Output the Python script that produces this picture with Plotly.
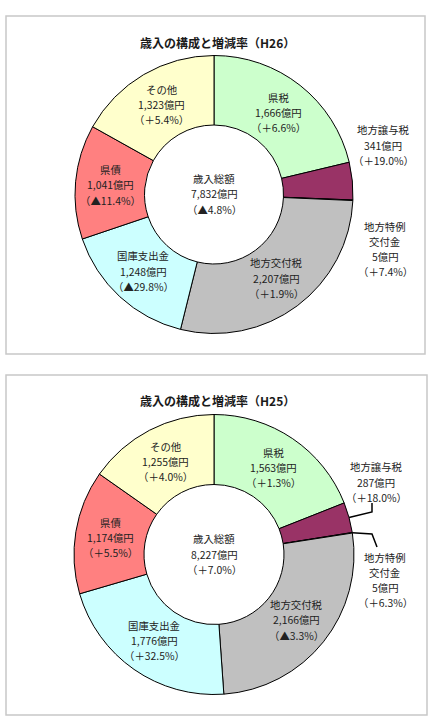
import math
import plotly.graph_objects as go

# ---------------- data ----------------
categories = ['県税', '地方譲与税', '地方特例交付金', '地方交付税', '国庫支出金', '県債', 'その他']
display_names = [['県税'], ['地方譲与税'], ['地方特例', '交付金'], ['地方交付税'],
                 ['国庫支出金'], ['県債'], ['その他']]
h26_values = [1666, 341, 5, 2207, 1248, 1041, 1323]
h26_rates = ['＋6.6%', '＋19.0%', '＋7.4%', '＋1.9%', '▲29.8%', '▲11.4%', '＋5.4%']
h26_total = 7832
h26_total_rate = '▲4.8%'
h25_values = [1563, 287, 5, 2166, 1776, 1174, 1255]
h25_rates = ['＋1.3%', '＋18.0%', '＋6.3%', '▲3.3%', '＋32.5%', '＋5.5%', '＋4.0%']
h25_total = 8227
h25_total_rate = '＋7.0%'
titles = ['歳入の構成と増減率（H26）', '歳入の構成と増減率（H25）']

colors = ['#CCFFCC', '#993366', '#993366', '#C0C0C0', '#CCFFFF', '#FF8080', '#FFFFCC']

W, H = 431, 717
FONT = 'Noto Sans CJK JP'
TXT = '#222222'
LINE_H = 15.2
FS = 10.4


def px(x):
    return x / W


def py(y):
    return 1 - y / H


fig = go.Figure()
annotations = []
shapes = []


def add_lines(lines, x, y, size=FS, color=TXT):
    n = len(lines)
    for k, t in enumerate(lines):
        yy = y + (k - (n - 1) / 2) * LINE_H
        annotations.append(dict(text=t, x=px(x), y=py(yy), xref='paper', yref='paper',
                                showarrow=False, font=dict(family=FONT, size=size, color=color),
                                xanchor='center', yanchor='middle'))


panels = [
    dict(values=h26_values, rates=h26_rates, total=h26_total, trate=h26_total_rate,
         title=titles[0], cx=214, cy=194.5, R=139, box=(6, 16, 425, 354), title_y=43,
         outside={1: (383, 145), 2: (385, 249)}, leaders=False),
    dict(values=h25_values, rates=h25_rates, total=h25_total, trate=h25_total_rate,
         title=titles[1], cx=214, cy=554.5, R=140, box=(6, 375, 427, 715), title_y=400,
         outside={1: (376, 482), 2: (385, 580)}, leaders=True,
         leader_pts={1: [(372, 512), (372, 503)], 2: [(372, 534), (377, 547)]}),
]

HOLE = 0.5

for p in panels:
    cx, cy, R = p['cx'], p['cy'], p['R']
    x0, y0, x1, y1 = p['box']
    shapes.append(dict(type='rect', xref='paper', yref='paper',
                       x0=px(x0), x1=px(x1), y0=py(y1), y1=py(y0),
                       line=dict(color='#C8C8C8', width=1.5), fillcolor='rgba(0,0,0,0)',
                       layer='below'))
    fig.add_trace(go.Pie(
        labels=categories, values=p['values'], sort=False, direction='clockwise',
        rotation=0, hole=HOLE, textinfo='none', showlegend=False,
        marker=dict(colors=colors, line=dict(color='#000000', width=1)),
        domain=dict(x=[px(cx - R), px(cx + R)], y=[py(cy + R), py(cy - R)]),
    ))
    annotations.append(dict(text='<b>' + p['title'] + '</b>', x=px(217), y=py(p['title_y']),
                            xref='paper', yref='paper', showarrow=False,
                            font=dict(family=FONT, size=12, color='#1a1a1a'),
                            xanchor='center', yanchor='middle'))
    add_lines(['歳入総額', '{:,}億円'.format(p['total']), '（{}）'.format(p['trate'])], cx, cy - 0.5)
    total = sum(p['values'])
    cum = 0
    for i, v in enumerate(p['values']):
        a0 = cum / total * 2 * math.pi
        cum += v
        a1 = cum / total * 2 * math.pi
        mid = (a0 + a1) / 2
        lines = display_names[i] + ['{:,}億円'.format(v), '（{}）'.format(p['rates'][i])]
        if i in p['outside']:
            lx, ly = p['outside'][i]
            if p['leaders']:
                sx = cx + R * math.sin(mid)
                sy = cy - R * math.cos(mid)
                pts = [(sx, sy)] + p['leader_pts'][i]
                path = 'M ' + ' L '.join('{:.4f},{:.4f}'.format(px(a), py(b)) for a, b in pts)
                shapes.append(dict(type='path', xref='paper', yref='paper', path=path,
                                   line=dict(color='#000000', width=1.5)))
        else:
            r = R * (HOLE + 1) / 2
            lx = cx + r * math.sin(mid)
            ly = cy - r * math.cos(mid)
        add_lines(lines, lx, ly)

fig.update_layout(width=W, height=H, margin=dict(l=0, r=0, t=0, b=0),
                  paper_bgcolor='white', plot_bgcolor='white',
                  annotations=annotations, shapes=shapes,
                  font=dict(family=FONT))

fig.write_html('out.html')
